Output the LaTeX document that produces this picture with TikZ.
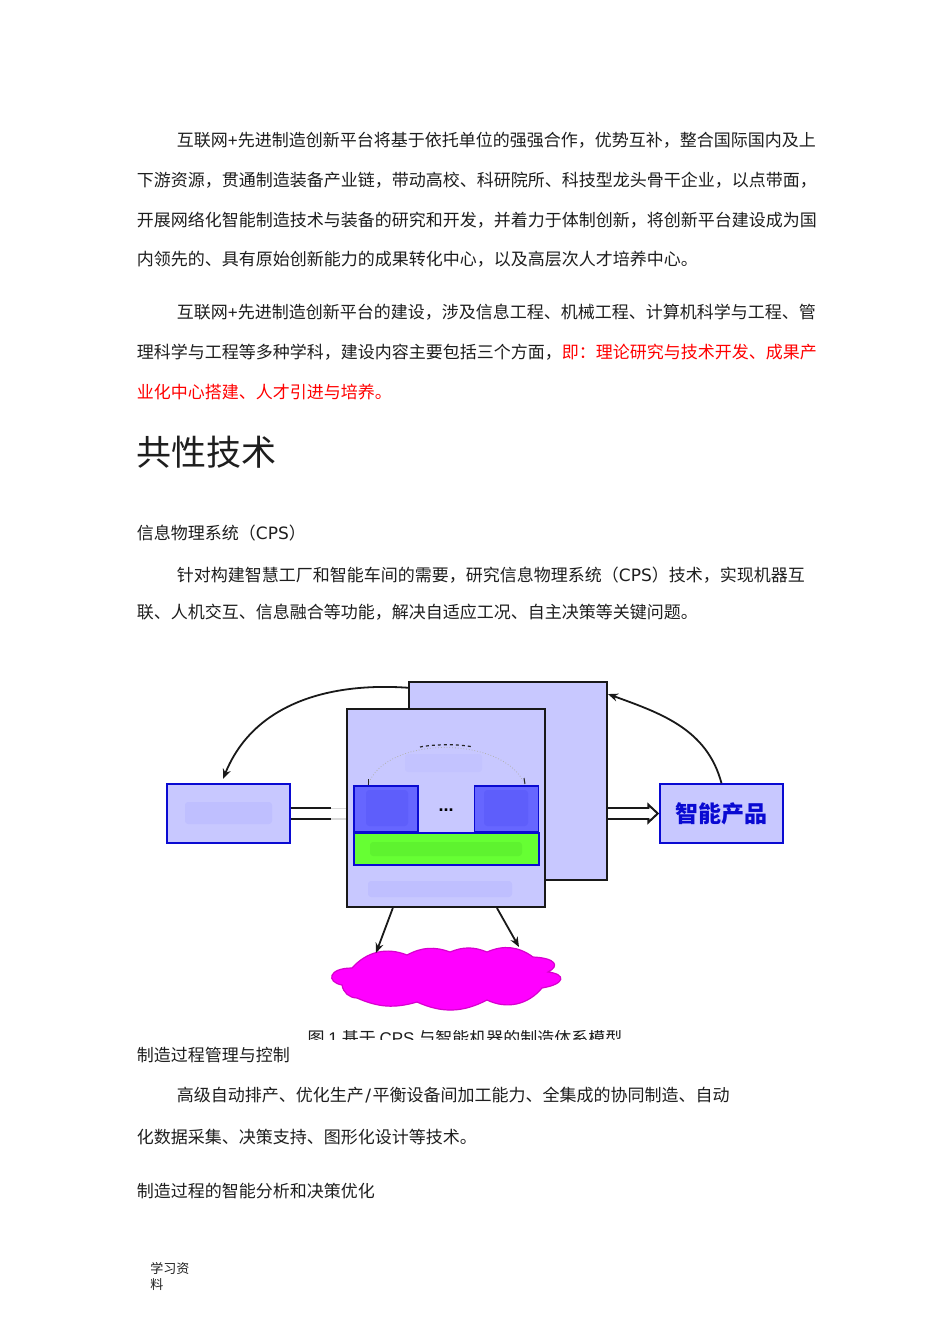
\documentclass[tikz,border=0pt]{standalone}
\usepackage{fontspec}
\setmainfont{Noto Sans CJK SC}
\newfontfamily\lat{DejaVu Sans}
\newfontfamily\capfont{Liberation Sans}
\usetikzlibrary{arrows.meta}
\definecolor{boxlav}{RGB}{200,200,255}
\definecolor{boxblue}{RGB}{102,102,255}
\definecolor{boxgreen}{RGB}{102,255,51}
\definecolor{edgeblue}{RGB}{10,10,210}
\definecolor{bodytext}{RGB}{30,30,30}
\definecolor{cloudpink}{RGB}{255,0,255}
\definecolor{cloudedge}{RGB}{215,0,205}
\begin{document}
\begin{tikzpicture}[x=1pt,y=-1pt,thick,
  body line/.style={anchor=base west,inner sep=0pt,text=bodytext,font=\fontsize{17}{20}\selectfont},
  red line/.style={body line,text=red},
  sheet node/.style={draw=black!90,line width=2pt,fill=boxlav,minimum width=198pt,minimum height=198pt,inner sep=0pt},
  side node/.style={draw=edgeblue,line width=1.5pt,fill=boxlav,minimum width=123pt,minimum height=59pt,inner sep=0pt},
  cell node/.style={draw=edgeblue,line width=1.3pt,fill=boxblue,minimum width=64pt,minimum height=46pt,inner sep=0pt},
  smudge/.style={fill=boxblue,opacity=0.09,draw=none,rounded corners=3pt},
  link/.style={black!90,line width=1.8pt,-{Stealth[length=10pt,width=8pt]}}]
  \useasboundingbox (0,0) rectangle (950,1344);
  \fill[white] (0,0) rectangle (950,1344);

  % text above the figure
  \node[body line] (p1a) at (176.5,146) {互联网{\capfont +}先进制造创新平台将基于依托单位的强强合作，优势互补，整合国际国内及上};
  \node[body line] (p1b) at (136.5,186) {下游资源，贯通制造装备产业链，带动高校、科研院所、科技型龙头骨干企业，以点带面，};
  \node[body line] (p1c) at (136.5,226) {开展网络化智能制造技术与装备的研究和开发，并着力于体制创新，将创新平台建设成为国};
  \node[body line] (p1d) at (136.5,265) {内领先的、具有原始创新能力的成果转化中心，以及高层次人才培养中心。};
  \node[body line] (p2a) at (176.5,318) {互联网{\capfont +}先进制造创新平台的建设，涉及信息工程、机械工程、计算机科学与工程、管};
  \node[body line] (p2b) at (136.5,358) {理科学与工程等多种学科，建设内容主要包括三个方面，\textcolor{red}{即：理论研究与技术开发、成果产}};
  \node[red line] (p2c) at (136.5,398) {业化中心搭建、人才引进与培养。};
  \node[body line,font=\fontsize{35}{40}\selectfont] (title) at (136.5,465) {共性技术};
  \node[body line] (cps) at (136.5,539) {信息物理系统（{\lat CPS}）};
  \node[body line] (p3a) at (176.5,581) {针对构建智慧工厂和智能车间的需要，研究信息物理系统（{\lat CPS}）技术，实现机器互};
  \node[body line] (p3b) at (136.5,618) {联、人机交互、信息融合等功能，解决自适应工况、自主决策等关键问题。};

  % figure
  \node[sheet node] (back) at (508,781) {};
  \node[side node] (leftbox) at (228.5,813.5) {};
  \node[side node] (product) at (721.5,813.5) {\fontsize{23}{24}\selectfont\bfseries\textcolor{edgeblue}{智能产品}};
  \coordinate (leftend) at (331,813.5);
  \coordinate (fadeend) at (347,813.5);
  \coordinate (headbase) at (648,813.5);
  \draw[black!90,line width=11pt] (leftbox.east) -- ++(2.5,0);
  \draw[black!15,double=white,double distance=9pt,line width=1.5pt] (leftend) -- (fadeend);
  \draw[black!90,double=white,double distance=9pt,line width=2pt] (leftbox.east) -- (leftend);
  \draw[black!90,double=white,double distance=9pt,line width=2pt,-{Triangle[open,length=12pt,width=22pt,fill=white,line width=2pt]}] (back.east |- product.west) -- (product.west);
  \draw[white,line width=9pt] (headbase) ++(-3,0) -- ++(6,0);
  \draw[link] (back.137) to[out=176,in=68] (223,779);
  \draw[link] (product.north) to[out=105,in=-20] (back.41);
  \node[sheet node] (front) at (446,808) {};
  \node[cell node] (cellA) at (386,809) {};
  \node[cell node] (cellB) at (506.5,809) {};
  \node[draw=edgeblue,line width=1.3pt,fill=boxgreen,minimum width=185pt,minimum height=32pt,inner sep=0pt] (bus) at (446.5,849) {};
  \node[inner sep=0pt,font=\bfseries\fontsize{18}{18}\selectfont,text=black] (dots) at (446,810) {{\capfont ...}};
  % the arch over the cells
  \coordinate (archL) at (368,785);
  \coordinate (archR) at (525,785);
  \draw[black!30,dotted] (archL) .. controls (385,735) and (505,735) .. (archR);
  \draw[black!85,dashed,line width=1.2pt] (420,747) .. controls (435,744) and (460,744) .. (473,747);
  \draw[black!85,line width=1pt] (archL) -- ++(0,-6);
  \draw[black!85,line width=1pt] (archR) ++(-1,-7) -- ++(1,6);
  % unreadable labels of the source image
  \fill[smudge] (185,802) rectangle (272,824);
  \fill[smudge] (368,881) rectangle (512,897);
  \fill[smudge,opacity=0.05] (405,754) rectangle (482,772);
  \fill[smudge,fill=edgeblue,opacity=0.08] (366,790) rectangle (408,826);
  \fill[smudge,fill=edgeblue,opacity=0.08] (484,790) rectangle (528,826);
  \fill[smudge,fill=black!60!green,opacity=0.08] (370,842) rectangle (522,856);
  % cloud
  \draw[draw=cloudedge,fill=cloudpink,line width=1.2pt] (342,985) .. controls (326,982) and (328,968) .. (352,968)
    to[bend left=35] (407,955) to[bend left=24] (450,952) to[bend left=22] (487,952) to[bend left=30] (533,957)
    .. controls (556,958) and (560,966) .. (548,972)
    .. controls (566,974) and (566,984) .. (542,988)
    to[bend left=38] (487,1000) to[bend left=26] (417,1002) to[bend left=20] (357,998)
    to[bend left=40] (342,985) -- cycle;
  \coordinate (storeL) at (376,953);
  \coordinate (storeR) at (519,947);
  \draw[link] (front.242.3) -- (storeL);
  \draw[link] (front.297.3) -- (storeR);
  % caption cut off by the next paragraph
  \begin{scope}
    \clip (300,1030) rectangle (640,1039);
    \node[anchor=base,inner sep=0pt,text=bodytext,font=\fontsize{17}{18}\selectfont] (caption) at (465,1044) {图 {\capfont 1} 基于 {\capfont CPS} 与智能机器的制造体系模型};
  \end{scope}

  % text below the figure
  \node[body line] (mfg) at (136.5,1061) {制造过程管理与控制};
  \node[body line] (p4a) at (176.5,1101) {高级自动排产、优化生产\kern1.5pt{\lat /}\kern1.5pt 平衡设备间加工能力、全集成的协同制造、自动};
  \node[body line] (p4b) at (136.5,1143.5) {化数据采集、决策支持、图形化设计等技术。};
  \node[body line] (opt) at (136.5,1197) {制造过程的智能分析和决策优化};
  \node[body line,font=\fontsize{13}{15}\selectfont] (footA) at (150,1273) {学习资};
  \node[body line,font=\fontsize{13}{15}\selectfont] (footB) at (150,1289) {料};
\end{tikzpicture}
\end{document}
